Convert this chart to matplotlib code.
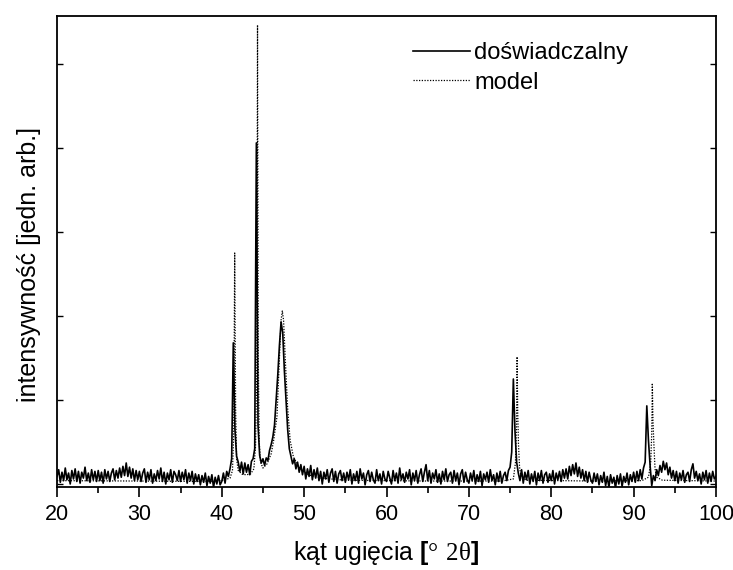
import matplotlib
matplotlib.use("Agg")
import matplotlib.pyplot as plt
import numpy as np

plt.rcParams['font.family'] = ['Liberation Sans', 'DejaVu Sans']
plt.rcParams['mathtext.fontset'] = 'custom'
plt.rcParams['mathtext.rm'] = 'Liberation Serif'
plt.rcParams['mathtext.bf'] = 'Liberation Sans:bold'

exp_start, exp_step = 20.0, 0.2
exp_y = [
    # 20.0 - 24.8
    90, 170, 20, 140, 40, 190, 50, 130, 0, 160, 60, 180, 30, 150, 10, 140, 70, 200, 40, 130, 20, 170, 50, 150, 30,
    # 25.0 - 29.8
    160, 40, 140, 10, 170, 60, 150, 30, 130, 180, 50, 160, 70, 190, 80, 210, 100, 250, 90, 200, 70, 180, 40, 160, 50,
    # 30.0 - 34.8
    150, 30, 130, 180, 20, 140, 50, 170, 10, 120, 40, 160, 60, 190, 30, 140, 0, 130, 50, 170, 20, 150, 110, 40, 160,
    # 35.0 - 39.8
    30, 140, 50, 170, 10, 130, 40, 150, 0, 120, 30, 110, -10, 100, 20, 130, -20, 90, 10, 110, -40, 80, 0, 100, -10,
    # 40.0 - 44.8
    30, 130, 10, 150, 90, 180, 300, 1680, 650, 330, 260, 150, 260, 120, 250, 140, 230, 110, 270, 300, 420, 4060, 700, 340, 250,
    # 45.0 - 49.8
    300, 220, 310, 280, 400, 470, 560, 700, 1000, 1300, 1650, 1930, 1800, 1350, 1000, 650, 420, 330, 240, 300, 180, 260, 140, 230, 110,
    # 50.0 - 54.8
    210, 60, 180, 90, 220, 50, 170, 70, 190, 40, 150, 0, 140, 60, 170, 20, 130, 180, 30, 150, 10, 120, 160, 40, 130,
    # 55.0 - 59.8
    20, 140, 50, 170, 0, 120, 40, 150, 10, 180, 60, 130, -10, 110, 160, 30, 140, 50, 10, 170, 40, 120, 0, 150, 60,
    # 60.0 - 64.8
    30, 150, 70, 0, 160, 40, 130, 10, 190, 50, 120, 20, 140, 60, 170, -10, 130, 40, 160, 10, 110, 180, 30, 140, 230,
    # 65.0 - 69.8
    40, 160, 10, 130, 60, 170, 20, 120, 0, 150, 50, 180, 30, 110, 140, 10, 160, 40, 130, -10, 120, 170, 20, 140, 50,
    # 70.0 - 74.8
    10, 130, 40, 160, 0, 110, 30, 150, -20, 120, 50, 140, 20, 170, 40, 110, -10, 130, 30, 150, 10, 100, 140, 40, 160,
    # 75.0 - 79.8
    200, 380, 1250, 620, 260, 130, 40, 170, 10, 140, 50, 160, 0, 120, 30, 150, -10, 130, 40, 160, 10, 110, 140, 20, 120,
    # 80.0 - 84.8
    40, 160, 0, 130, 50, 150, 30, 170, 70, 180, 60, 210, 100, 230, 120, 250, 90, 200, 70, 170, 40, 150, 20, 140, 50,
    # 85.0 - 89.8
    10, 130, 30, 120, -10, 100, 20, 140, -20, 90, -40, 110, 10, 80, -50, 100, 0, 120, -30, 90, 20, 130, -10, 110, 30,
    # 90.0 - 94.8
    140, 20, 150, 40, 170, 60, 190, 260, 930, 520, 220, -20, 100, 40, 170, 100, 220, 140, 270, 170, 250, 110, 200, 70, 160,
    # 95.0 - 99.8
    40, 150, 10, 130, 50, 160, 20, 110, 140, 30, 170, 240, 70, 150, 40, 120, 0, 140, 50, 160, 10, 130, 30, 150, 60,
    # 100.0
    90,
]

# calculated (model) pattern
model_x = [20, 30, 38, 40, 41.0, 41.3, 41.45, 41.57, 41.68, 41.8, 42.0, 42.5, 43.0, 43.5, 43.9,
           44.1, 44.25, 44.34, 44.43, 44.55, 44.7, 45.0, 45.5, 46.0, 46.3, 46.7, 47.0, 47.2,
           47.35, 47.5, 47.75, 48.0, 48.3, 48.7, 49.5, 50.5, 52, 55, 65, 74, 75.4, 75.65, 75.78,
           75.85, 75.93, 76.02, 76.15, 76.35, 77, 85, 91, 91.8, 92.07, 92.2, 92.27, 92.35, 92.47,
           92.6, 92.8, 93.5, 100]
model_y = [40, 35, 30, 40, 70, 160, 600, 2750, 900, 300, 160, 115, 110, 120, 180,
           450, 1400, 5464, 1500, 500, 260, 190, 240, 360, 520, 800, 1500, 1950,
           2060, 1950, 1400, 900, 520, 320, 180, 110, 70, 45, 35, 35, 60, 250, 700,
           1515, 850, 480, 200, 80, 45, 35, 40, 80, 250, 600, 1200, 750, 450,
           180, 80, 45, 35]

x_ticks = [20, 30, 40, 50, 60, 70, 80, 90, 100]

exp_x = exp_start + exp_step * np.arange(len(exp_y))

fig = plt.figure(figsize=(7.33, 5.70), dpi=100)
ax = fig.add_axes([0.0778, 0.1456, 0.899, 0.8263])

ax.plot(exp_x, exp_y, color='black', lw=1.2, label='doświadczalny')
ax.plot(model_x, model_y, color='black', lw=0.9, ls=(0, (1, 1.2)), label='model')

ax.set_xlim(20, 100)
ax.set_ylim(-36, 5571)
ax.set_xticks(x_ticks)
ax.set_xticks(np.arange(25, 100, 10), minor=True)
ax.set_yticks([0, 1000, 2000, 3000, 4000, 5000])
ax.set_yticklabels([])

ax.tick_params(axis='x', which='major', direction='out', length=7, width=1.2,
               labelsize=15.5, pad=5, top=False)
ax.tick_params(axis='x', which='minor', direction='out', length=4, width=1.2, top=False)
ax.tick_params(axis='y', which='major', direction='in', length=4, width=1,
               left=True, right=True)
for s in ax.spines.values():
    s.set_linewidth(1.3)

ax.set_xlabel(r'kąt ugięcia $\mathbf{[}\mathrm{°\ 2θ}\mathbf{]}$', fontsize=18, labelpad=10)
ax.set_ylabel('intensywność [jedn. arb.]', fontsize=18, labelpad=8, y=0.473)

leg = ax.legend(loc='upper left', bbox_to_anchor=(0.526, 0.964), frameon=False,
                fontsize=17, handlelength=2.4, handletextpad=0.2, labelspacing=0.3,
                borderaxespad=0)

fig.savefig('out.png', dpi=100)
